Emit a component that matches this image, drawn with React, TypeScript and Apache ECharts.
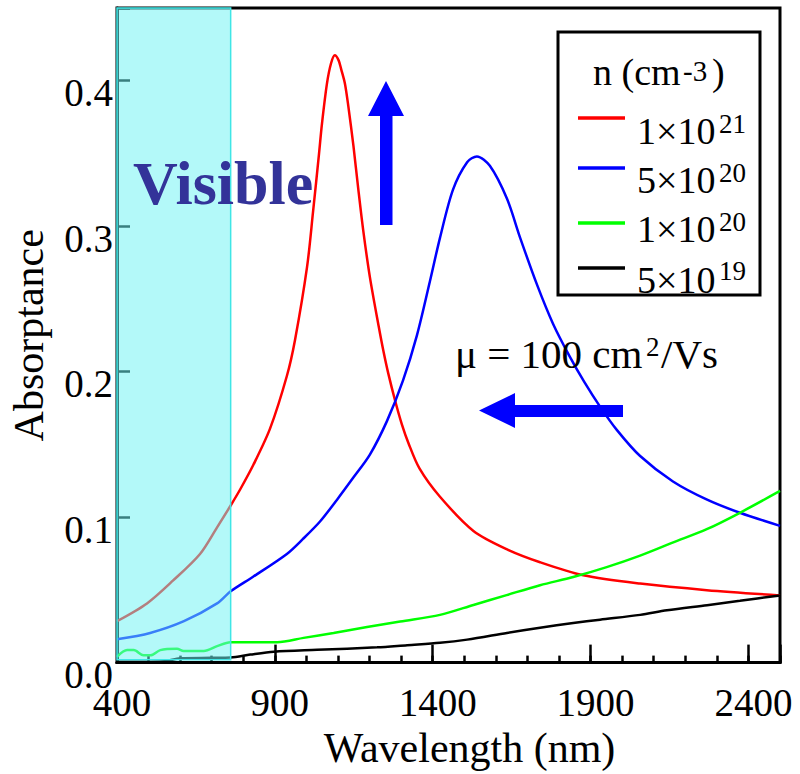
import React, { useEffect, useRef } from 'react';
import * as echarts from 'echarts';

const FONT = '"Liberation Serif", "Times New Roman", Times, serif';

// Axis ticks
const xTicks = [400, 900, 1400, 1900, 2400];
const yTicks = [0.0, 0.1, 0.2, 0.3, 0.4];
const visibleBand = [400, 760];

// n = 1x10^21 cm^-3
const wlRed = [400, 495, 577, 663, 717, 760, 790, 832, 885, 938, 964, 1002, 1021, 1040, 1049, 1065, 1078, 1090, 1102, 1110, 1122, 1133, 1149, 1164, 1180, 1201, 1229, 1244, 1259, 1281, 1302, 1323, 1358, 1423, 1529, 1634, 1740, 1877, 2057, 2268, 2500];
const absRed = [0.0285, 0.0407, 0.0563, 0.0747, 0.093, 0.108, 0.119, 0.136, 0.161, 0.197, 0.222, 0.272, 0.310, 0.350, 0.370, 0.398, 0.412, 0.4175, 0.414, 0.408, 0.398, 0.382, 0.355, 0.326, 0.297, 0.265, 0.231, 0.214, 0.199, 0.180, 0.164, 0.151, 0.1335, 0.114, 0.0905, 0.078, 0.069, 0.060, 0.0543, 0.0498, 0.0462];

// n = 5x10^20 cm^-3
const wlBlue = [400, 505, 612, 717, 760, 831, 938, 989, 1043, 1097, 1148, 1201, 1255, 1306, 1350, 1391, 1423, 1464, 1509, 1540, 1581, 1635, 1677, 1730, 1781, 1835, 1880, 1930, 1983, 2057, 2161, 2269, 2373, 2500];
const absBlue = [0.016, 0.0204, 0.0285, 0.0407, 0.049, 0.059, 0.0747, 0.085, 0.097, 0.112, 0.127, 0.143, 0.166, 0.194, 0.225, 0.262, 0.292, 0.325, 0.344, 0.348, 0.3415, 0.319, 0.292, 0.260, 0.233, 0.210, 0.193, 0.176, 0.160, 0.142, 0.1245, 0.112, 0.103, 0.094];

// n = 1x10^20 cm^-3
const wlGreen = [400, 432, 453, 484, 506, 537, 590, 611, 675, 717, 759, 907, 991, 1086, 1192, 1297, 1423, 1529, 1634, 1740, 1845, 1951, 2057, 2162, 2268, 2373, 2500];
const absGreen = [0.004, 0.0086, 0.0086, 0.005, 0.005, 0.0086, 0.0095, 0.008, 0.008, 0.0113, 0.014, 0.014, 0.017, 0.0204, 0.0244, 0.0283, 0.0328, 0.0396, 0.0464, 0.0532, 0.0588, 0.0656, 0.0735, 0.0826, 0.0917, 0.103, 0.118];

// n = 5x10^19 cm^-3
const wlBlack = [400, 550, 600, 700, 760, 822, 897, 1034, 1224, 1319, 1423, 1509, 1635, 1740, 1845, 1930, 2057, 2142, 2269, 2373, 2500];
const absBlack = [0.0005, 0.001, 0.003, 0.0033, 0.0035, 0.0055, 0.0075, 0.0088, 0.0105, 0.012, 0.0136, 0.0158, 0.0204, 0.024, 0.0272, 0.0295, 0.0328, 0.036, 0.0395, 0.0425, 0.0462];

const seriesNames = ['1×10²¹', '5×10²⁰', '1×10²⁰', '5×10¹⁹'];
const seriesColors = ['#ff0000', '#0000ff', '#00ff00', '#000000'];
const legendBase = ['1×10', '5×10', '1×10', '5×10'];
const legendExp = ['21', '20', '20', '19'];

const pairs = (xs: number[], ys: number[]) => xs.map((x, i) => [x, ys[i]]);

function txt(text: string, x: number, baseline: number, size: number, extra: any = {}) {
  return {
    type: 'text',
    z: 100,
    x,
    y: baseline - 0.3375 * size,
    style: {
      text,
      fontFamily: FONT,
      fontSize: size,
      fill: '#000',
      align: 'left',
      verticalAlign: 'middle',
      ...extra,
    },
  };
}

export default function App() {
  const ref = useRef<HTMLDivElement>(null);

  useEffect(() => {
    if (!ref.current) return;
    const chart = echarts.init(ref.current, null, { renderer: 'svg' });

    const data = [
      pairs(wlRed, absRed),
      pairs(wlBlue, absBlue),
      pairs(wlGreen, absGreen),
      pairs(wlBlack, absBlack),
    ];

    const lineSeries = data.map((d, i) => ({
      name: seriesNames[i],
      type: 'line',
      data: d,
      showSymbol: false,
      smooth: 0.3,
      xAxisIndex: 0,
      yAxisIndex: 0,
      z: 2,
      lineStyle: { color: seriesColors[i], width: 2.5 },
      itemStyle: { color: seriesColors[i] },
    }));

    const legendBaselines = [144, 193, 242, 293];
    const supBaselines = [133, 182, 231, 280];
    const swatchY = [118, 168, 223, 268];

    const legendGraphics: any[] = [
      {
        type: 'rect',
        z: 99,
        shape: { x: 558, y: 32, width: 202, height: 263 },
        style: { fill: '#fff', stroke: '#000', lineWidth: 3 },
      },
      txt('n (cm', 593, 85, 38),
      txt('-3', 683, 81, 29),
      txt(')', 712, 85, 38),
    ];
    legendBase.forEach((b, i) => {
      legendGraphics.push({
        type: 'line',
        z: 100,
        shape: { x1: 578, y1: swatchY[i], x2: 625, y2: swatchY[i] },
        style: { stroke: seriesColors[i], lineWidth: 3.5 },
      });
      legendGraphics.push(txt(b, 637, legendBaselines[i], 38));
      legendGraphics.push(txt(legendExp[i], 719, supBaselines[i], 27));
    });

    const arrows = [
      {
        type: 'polygon',
        z: 100,
        shape: {
          points: [
            [380, 225], [380, 116], [368, 116], [386, 81], [404, 116], [392.5, 116], [392.5, 225],
          ],
        },
        style: { fill: '#0000ff' },
      },
      {
        type: 'polygon',
        z: 100,
        shape: {
          points: [
            [623, 405], [515, 405], [515, 393], [479, 410.5], [515, 428], [515, 417], [623, 417],
          ],
        },
        style: { fill: '#0000ff' },
      },
    ];

    const option: any = {
      animation: false,
      backgroundColor: '#ffffff',
      grid: {
        left: 117,
        right: 20,
        top: 8,
        bottom: 104,
        show: true,
        borderColor: '#000',
        borderWidth: 3,
        backgroundColor: 'transparent',
      },
      xAxis: [
        {
          type: 'value',
          min: 400,
          max: 2500,
          interval: 500,
          position: 'bottom',
          axisLine: { show: true, onZero: false, lineStyle: { color: '#000', width: 3 } },
          axisTick: { show: true, inside: true, length: 18, lineStyle: { color: '#000', width: 2.5 } },
          axisLabel: {
            fontFamily: FONT,
            fontSize: 39,
            color: '#000',
            margin: 26,
            lineHeight: 28,
            padding: [0, 0, 0, 10],
            formatter: (v: number) => (xTicks.includes(v) ? String(v) : ''),
          },
          splitLine: { show: false },
          name: 'Wavelength (nm)',
          nameLocation: 'middle',
          nameGap: 48,
          nameTextStyle: { fontFamily: FONT, fontSize: 42, color: '#000', padding: [0, 0, 0, 42] },
        },
        {
          type: 'value',
          min: 400,
          max: 2500,
          interval: 100,
          position: 'bottom',
          offset: 0,
          axisLine: { show: true, onZero: false, lineStyle: { color: '#000', width: 3 } },
          axisTick: { show: true, inside: true, length: 7, lineStyle: { color: '#000', width: 2.5 } },
          axisLabel: { show: false },
          splitLine: { show: false },
        },
      ],
      yAxis: {
        type: 'value',
        min: 0,
        max: 0.45,
        interval: 0.1,
        axisLine: { show: true, onZero: false, lineStyle: { color: '#000', width: 3 } },
        axisTick: { show: true, inside: true, length: 13, lineStyle: { color: '#000', width: 2.5 } },
        axisLabel: {
          fontFamily: FONT,
          fontSize: 39,
          color: '#000',
          margin: 4,
          verticalAlign: 'top',
          lineHeight: 24,
          formatter: (v: number) => (yTicks.some((t) => Math.abs(t - v) < 1e-9) ? v.toFixed(1) : ''),
        },
        splitLine: { show: false },
        name: 'Absorptance',
        nameLocation: 'middle',
        nameGap: 67,
        nameTextStyle: { fontFamily: FONT, fontSize: 42, color: '#000' },
      },
      series: [
        ...lineSeries,
        {
          name: 'Visible',
          type: 'line',
          data: [],
          xAxisIndex: 1,
          yAxisIndex: 0,
          z: 5,
          markArea: {
            silent: true,
            z: 10,
            itemStyle: { color: 'rgba(110,244,244,0.52)', borderColor: '#3fe6e6', borderWidth: 1.5 },
            data: [[{ xAxis: visibleBand[0], yAxis: 0.002 }, { xAxis: visibleBand[1], yAxis: 0.45 }]],
          },
        },
      ],
      graphic: [
        txt('Visible', 133, 204, 62, { fontWeight: 'bold', fill: '#333399' }),
        ...arrows,
        txt('μ = 100 cm', 455, 368, 41),
        txt('2', 646, 356, 27),
        txt('/Vs', 661, 368, 41),
        ...legendGraphics,
      ],
    };

    chart.setOption(option);
    return () => chart.dispose();
  }, []);

  return (
    <div
      ref={ref}
      style={{ position: 'absolute', left: 0, top: 0, width: 800, height: 774, background: '#fff' }}
    />
  );
}
